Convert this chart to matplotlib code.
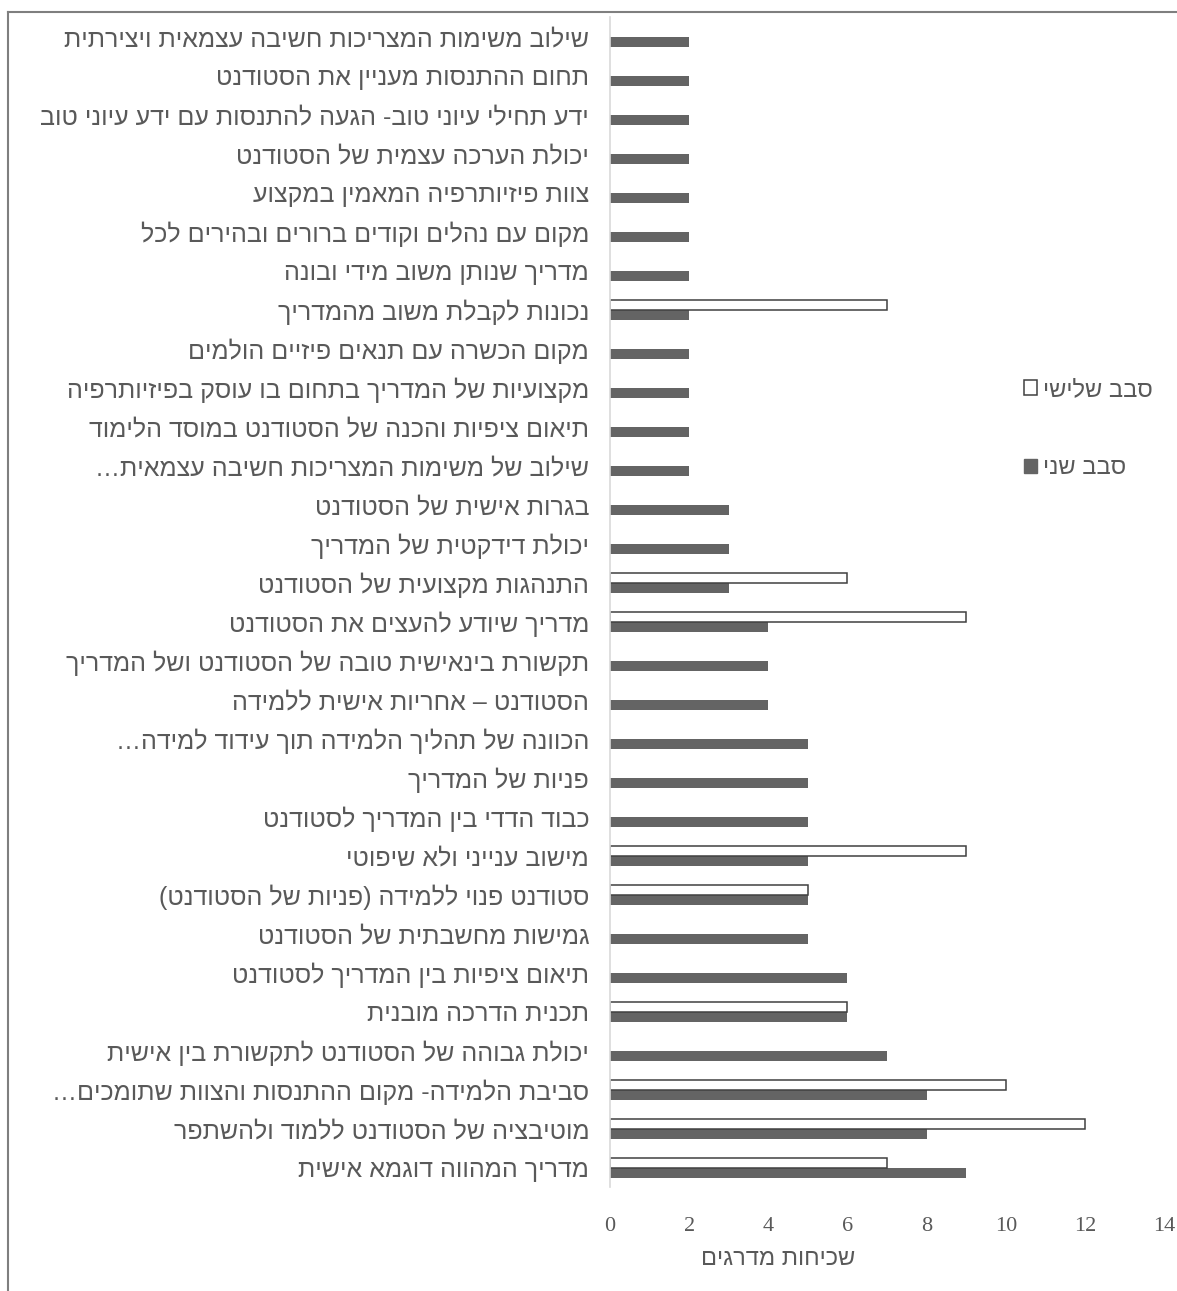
import numpy as np
import matplotlib
matplotlib.use('Agg')
import matplotlib.pyplot as plt
from matplotlib.lines import Line2D
from matplotlib.patches import Patch

plt.rcParams['font.family'] = ['Liberation Sans', 'DejaVu Sans']

# Categories, top to bottom (logical Hebrew order)
categories = [
    'שילוב משימות המצריכות חשיבה עצמאית ויצירתית',
    'תחום ההתנסות מעניין את הסטודנט',
    'ידע תחילי עיוני טוב- הגעה להתנסות עם ידע עיוני טוב',
    'יכולת הערכה עצמית של הסטודנט',
    'צוות פיזיותרפיה המאמין במקצוע',
    'מקום עם נהלים וקודים ברורים ובהירים לכל',
    'מדריך שנותן משוב מידי ובונה',
    'נכונות לקבלת משוב מהמדריך',
    'מקום הכשרה עם תנאים פיזיים הולמים',
    'מקצועיות של המדריך בתחום בו עוסק בפיזיותרפיה',
    'תיאום ציפיות והכנה של הסטודנט במוסד הלימוד',
    'שילוב של משימות המצריכות חשיבה עצמאית…',
    'בגרות אישית של הסטודנט',
    'יכולת דידקטית של המדריך',
    'התנהגות מקצועית של הסטודנט',
    'מדריך שיודע להעצים את הסטודנט',
    'תקשורת בינאישית טובה של הסטודנט ושל המדריך',
    'הסטודנט – אחריות אישית ללמידה',
    'הכוונה של תהליך הלמידה תוך עידוד למידה…',
    'פניות של המדריך',
    'כבוד הדדי בין המדריך לסטודנט',
    'מישוב ענייני ולא שיפוטי',
    'סטודנט פנוי ללמידה (פניות של הסטודנט)',
    'גמישות מחשבתית של הסטודנט',
    'תיאום ציפיות בין המדריך לסטודנט',
    'תכנית הדרכה מובנית',
    'יכולת גבוהה של הסטודנט לתקשורת בין אישית',
    'סביבת הלמידה- מקום ההתנסות והצוות שתומכים…',
    'מוטיבציה של הסטודנט ללמוד ולהשתפר',
    'מדריך המהווה דוגמא אישית',
]

# סבב שני (second round)
round2 = [2, 2, 2, 2, 2, 2, 2, 2, 2, 2, 2, 2, 3, 3, 3,
          4, 4, 4, 5, 5, 5, 5, 5, 5, 6, 6, 7, 8, 8, 9]
# סבב שלישי (third round), nan = no bar
round3 = [np.nan, np.nan, np.nan, np.nan, np.nan, np.nan, np.nan, 7, np.nan, np.nan,
          np.nan, np.nan, np.nan, np.nan, 6, 9, np.nan, np.nan, np.nan, np.nan,
          np.nan, 9, 5, np.nan, np.nan, 6, np.nan, 10, 12, 7]

series_names = ['סבב שלישי', 'סבב שני']
x_label = 'שכיחות מדרגים'
x_ticks = [0, 2, 4, 6, 8, 10, 12, 14]


def rtl(s):
    # matplotlib has no bidi support: reverse to visual order, mirror brackets
    swap = {'(': ')', ')': '('}
    return ''.join(swap.get(c, c) for c in s[::-1])


text_col = '#595959'
dark = '#646464'

fig = plt.figure(figsize=(11.77, 12.91), dpi=100)
ax = fig.add_axes([0.5183, 0.0802, 0.4707, 0.9063])

y = np.arange(len(categories))
h = 0.256
ax.barh(y + h / 2, round2, height=h, color=dark, label=rtl(series_names[1]))
ax.barh(y - h / 2, round3, height=h, color='white', edgecolor='#404040',
        linewidth=1.1, label=rtl(series_names[0]))

ax.set_ylim(len(categories) - 0.5, -0.5)
ax.set_xlim(0, 14)
ax.set_xticks(x_ticks)
ax.set_xticklabels([str(t) for t in x_ticks], family=['Liberation Serif'],
                   fontsize=16, color=text_col)
ax.set_yticks(y)
ax.set_yticklabels([rtl(c) for c in categories], fontsize=18, color=text_col)
ax.tick_params(axis='y', length=0, pad=15)
ax.tick_params(axis='x', length=0, pad=21)

for s in ['top', 'right', 'bottom']:
    ax.spines[s].set_visible(False)
ax.spines['left'].set_color('#d9d9d9')
ax.spines['left'].set_linewidth(1.2)

ax.set_xlabel(rtl(x_label), fontsize=17, color=text_col)
ax.xaxis.set_label_coords(0.303, -0.061)
ax.xaxis.label.set_va('center')

# Legend: third round on top, second round below
handles = [Patch(facecolor='white', edgecolor='#404040', linewidth=1.1),
           Patch(facecolor=dark, edgecolor=dark)]
fig.legend(handles, [rtl(series_names[0]), rtl(series_names[1])],
           loc='upper left', bbox_to_anchor=(1012 / 1177, 1 - 367 / 1291),
           frameon=False, fontsize=17, labelcolor=text_col,
           handlelength=0.55, handleheight=0.55, handletextpad=0.25,
           labelspacing=2.4, borderpad=0)

# Chart area border (top and left edges visible)
fig.add_artist(Line2D([8 / 1177, 1], [1 - 12 / 1291, 1 - 12 / 1291],
                      color='#7f7f7f', linewidth=1.5, transform=fig.transFigure))
fig.add_artist(Line2D([8 / 1177, 8 / 1177], [0, 1 - 12 / 1291],
                      color='#7f7f7f', linewidth=1.5, transform=fig.transFigure))

fig.savefig('out.png', dpi=100)
